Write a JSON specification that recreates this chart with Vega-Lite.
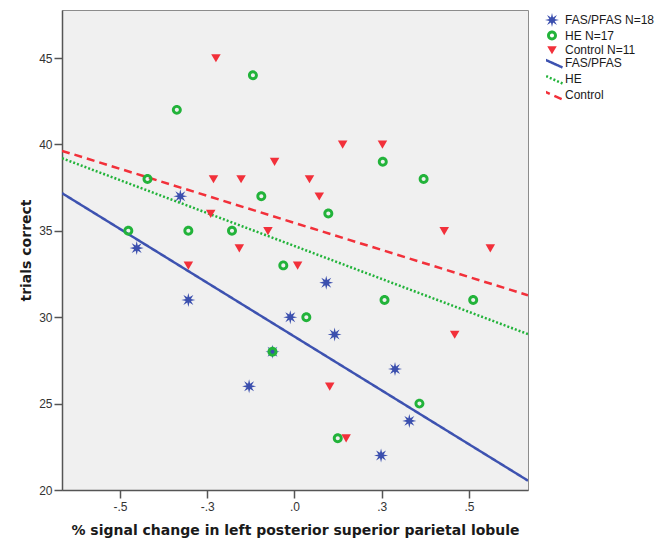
{
  "$schema": "https://vega.github.io/schema/vega-lite/v6.json",
  "width": 466,
  "height": 480,
  "autosize": {"type": "none"},
  "padding": {"left": 62, "top": 10, "right": 142, "bottom": 52},
  "background": "#ffffff",
  "config": {
    "view": {"fill": "#f0f0f0", "stroke": "#8c8c8c", "strokeWidth": 1},
    "axis": {
      "grid": false,
      "domainColor": "#555555",
      "domainWidth": 1.5,
      "tickColor": "#555555",
      "tickWidth": 1.5,
      "tickSize": 8,
      "labelFont": "Liberation Sans",
      "labelFontSize": 12,
      "labelColor": "#333333",
      "titleFont": "DejaVu Sans",
      "titleFontWeight": "bold",
      "titleFontSize": 14,
      "titleColor": "#1a1a1a"
    },
    "legend": {
      "labelFont": "Liberation Sans",
      "labelFontSize": 12,
      "labelColor": "#1a1a1a",
      "padding": 0,
      "title": null
    }
  },
  "datasets": {
    "points": [
      {"group": "FAS/PFAS N=18", "x": -0.452, "y": 34.0},
      {"group": "FAS/PFAS N=18", "x": -0.327, "y": 37.0},
      {"group": "FAS/PFAS N=18", "x": -0.304, "y": 31.0},
      {"group": "FAS/PFAS N=18", "x": -0.130, "y": 26.0},
      {"group": "FAS/PFAS N=18", "x": -0.063, "y": 28.0},
      {"group": "FAS/PFAS N=18", "x": -0.012, "y": 30.0},
      {"group": "FAS/PFAS N=18", "x": 0.091, "y": 32.0},
      {"group": "FAS/PFAS N=18", "x": 0.115, "y": 29.0},
      {"group": "FAS/PFAS N=18", "x": 0.288, "y": 27.0},
      {"group": "FAS/PFAS N=18", "x": 0.329, "y": 24.0},
      {"group": "FAS/PFAS N=18", "x": 0.248, "y": 22.0},
      {"group": "HE N=17", "x": -0.476, "y": 35.0},
      {"group": "HE N=17", "x": -0.421, "y": 38.0},
      {"group": "HE N=17", "x": -0.337, "y": 42.0},
      {"group": "HE N=17", "x": -0.119, "y": 44.0},
      {"group": "HE N=17", "x": -0.304, "y": 35.0},
      {"group": "HE N=17", "x": -0.179, "y": 35.0},
      {"group": "HE N=17", "x": -0.095, "y": 37.0},
      {"group": "HE N=17", "x": -0.032, "y": 33.0},
      {"group": "HE N=17", "x": 0.034, "y": 30.0},
      {"group": "HE N=17", "x": -0.063, "y": 28.0},
      {"group": "HE N=17", "x": 0.097, "y": 36.0},
      {"group": "HE N=17", "x": 0.253, "y": 39.0},
      {"group": "HE N=17", "x": 0.370, "y": 38.0},
      {"group": "HE N=17", "x": 0.258, "y": 31.0},
      {"group": "HE N=17", "x": 0.512, "y": 31.0},
      {"group": "HE N=17", "x": 0.358, "y": 25.0},
      {"group": "HE N=17", "x": 0.124, "y": 23.0},
      {"group": "Control N=11", "x": -0.225, "y": 45.0},
      {"group": "Control N=11", "x": -0.232, "y": 38.0},
      {"group": "Control N=11", "x": -0.153, "y": 38.0},
      {"group": "Control N=11", "x": -0.057, "y": 39.0},
      {"group": "Control N=11", "x": -0.240, "y": 36.0},
      {"group": "Control N=11", "x": -0.304, "y": 33.0},
      {"group": "Control N=11", "x": -0.158, "y": 34.0},
      {"group": "Control N=11", "x": -0.076, "y": 35.0},
      {"group": "Control N=11", "x": 0.009, "y": 33.0},
      {"group": "Control N=11", "x": 0.043, "y": 38.0},
      {"group": "Control N=11", "x": 0.071, "y": 37.0},
      {"group": "Control N=11", "x": 0.138, "y": 40.0},
      {"group": "Control N=11", "x": 0.252, "y": 40.0},
      {"group": "Control N=11", "x": 0.429, "y": 35.0},
      {"group": "Control N=11", "x": 0.561, "y": 34.0},
      {"group": "Control N=11", "x": 0.459, "y": 29.0},
      {"group": "Control N=11", "x": 0.101, "y": 26.0},
      {"group": "Control N=11", "x": 0.148, "y": 23.0}
    ],
    "lines": [
      {"line": "FAS/PFAS", "x": -0.666, "y": 37.18},
      {"line": "FAS/PFAS", "x": 0.669, "y": 20.54},
      {"line": "HE", "x": -0.666, "y": 39.2},
      {"line": "HE", "x": 0.669, "y": 29.02},
      {"line": "Control", "x": -0.666, "y": 39.63},
      {"line": "Control", "x": 0.669, "y": 31.27}
    ]
  },
  "layer": [
    {
      "data": {"name": "lines"},
      "mark": {"type": "line", "strokeWidth": 2.5, "clip": true},
      "encoding": {
        "x": {
          "field": "x", "type": "quantitative",
          "scale": {"domain": [-0.666, 0.669], "nice": false, "zero": false},
          "axis": {
            "title": "% signal change in left posterior superior parietal lobule",
            "values": [-0.5, -0.25, 0, 0.25, 0.5],
            "labelExpr": "datum.value < -0.4 ? '-.5' : datum.value < -0.1 ? '-.3' : datum.value < 0.1 ? '.0' : datum.value < 0.4 ? '.3' : '.5'",
            "labelPadding": 3,
            "titlePadding": 11
          }
        },
        "y": {
          "field": "y", "type": "quantitative",
          "scale": {"domain": [20, 47.78], "nice": false, "zero": false},
          "axis": {
            "title": "trials correct",
            "values": [20, 25, 30, 35, 40, 45],
            "labelPadding": 2,
            "titlePadding": 5
          }
        },
        "stroke": {
          "field": "line", "type": "nominal",
          "scale": {"domain": ["FAS/PFAS", "HE", "Control"], "range": ["#3d52b0", "#22b33a", "#f2303a"]},
          "legend": {
            "orient": "none", "legendX": 484, "legendY": 45,
            "symbolType": "M-2,-0.9L2,0.9",
            "symbolSize": 100,
            "symbolStrokeWidth": 2.5,
            "labelOffset": 6,
            "clipHeight": 16,
            "rowPadding": 0
          }
        },
        "strokeDash": {
          "field": "line", "type": "nominal",
          "scale": {"domain": ["FAS/PFAS", "HE", "Control"], "range": [[1, 0], [2, 2], [8, 5]]},
          "legend": {
            "orient": "none", "legendX": 484, "legendY": 45,
            "symbolType": "M-2,-0.9L2,0.9",
            "symbolSize": 100,
            "symbolStrokeWidth": 2.5,
            "labelOffset": 6,
            "clipHeight": 16,
            "rowPadding": 0
          }
        }
      }
    },
    {
      "data": {"name": "points"},
      "mark": {"type": "point", "filled": true, "size": 196, "opacity": 1, "strokeWidth": 0},
      "encoding": {
        "x": {"field": "x", "type": "quantitative"},
        "y": {"field": "y", "type": "quantitative"},
        "fill": {
          "field": "group", "type": "nominal",
          "scale": {"domain": ["FAS/PFAS N=18", "HE N=17", "Control N=11"], "range": ["#3b4fae", "#22b33a", "#f2303a"]},
          "legend": {
            "orient": "none", "legendX": 483, "legendY": 3,
            "symbolSize": 196,
            "symbolOpacity": 1,
            "symbolStrokeWidth": 0,
            "labelOffset": 6,
            "rowPadding": 1.5
          }
        },
        "shape": {
          "field": "group", "type": "nominal",
          "scale": {
            "domain": ["FAS/PFAS N=18", "HE N=17", "Control N=11"],
            "range": [
              "M1,0L0.37,0.15L0.71,0.71L0.15,0.37L0,1L-0.15,0.37L-0.71,0.71L-0.37,0.15L-1,0L-0.37,-0.15L-0.71,-0.71L-0.15,-0.37L0,-1L0.15,-0.37L0.71,-0.71L0.37,-0.15Z",
              "M-0.71,0A0.71,0.71 0 1,1 0.71,0A0.71,0.71 0 1,1 -0.71,0ZM-0.29,0A0.29,0.29 0 1,0 0.29,0A0.29,0.29 0 1,0 -0.29,0Z",
              "M-0.68,-0.55L0.68,-0.55L0,0.62Z"
            ]
          },
          "legend": {
            "orient": "none", "legendX": 483, "legendY": 3,
            "symbolSize": 196,
            "symbolOpacity": 1,
            "symbolStrokeWidth": 0,
            "labelOffset": 6,
            "rowPadding": 1.5
          }
        }
      }
    }
  ]
}
